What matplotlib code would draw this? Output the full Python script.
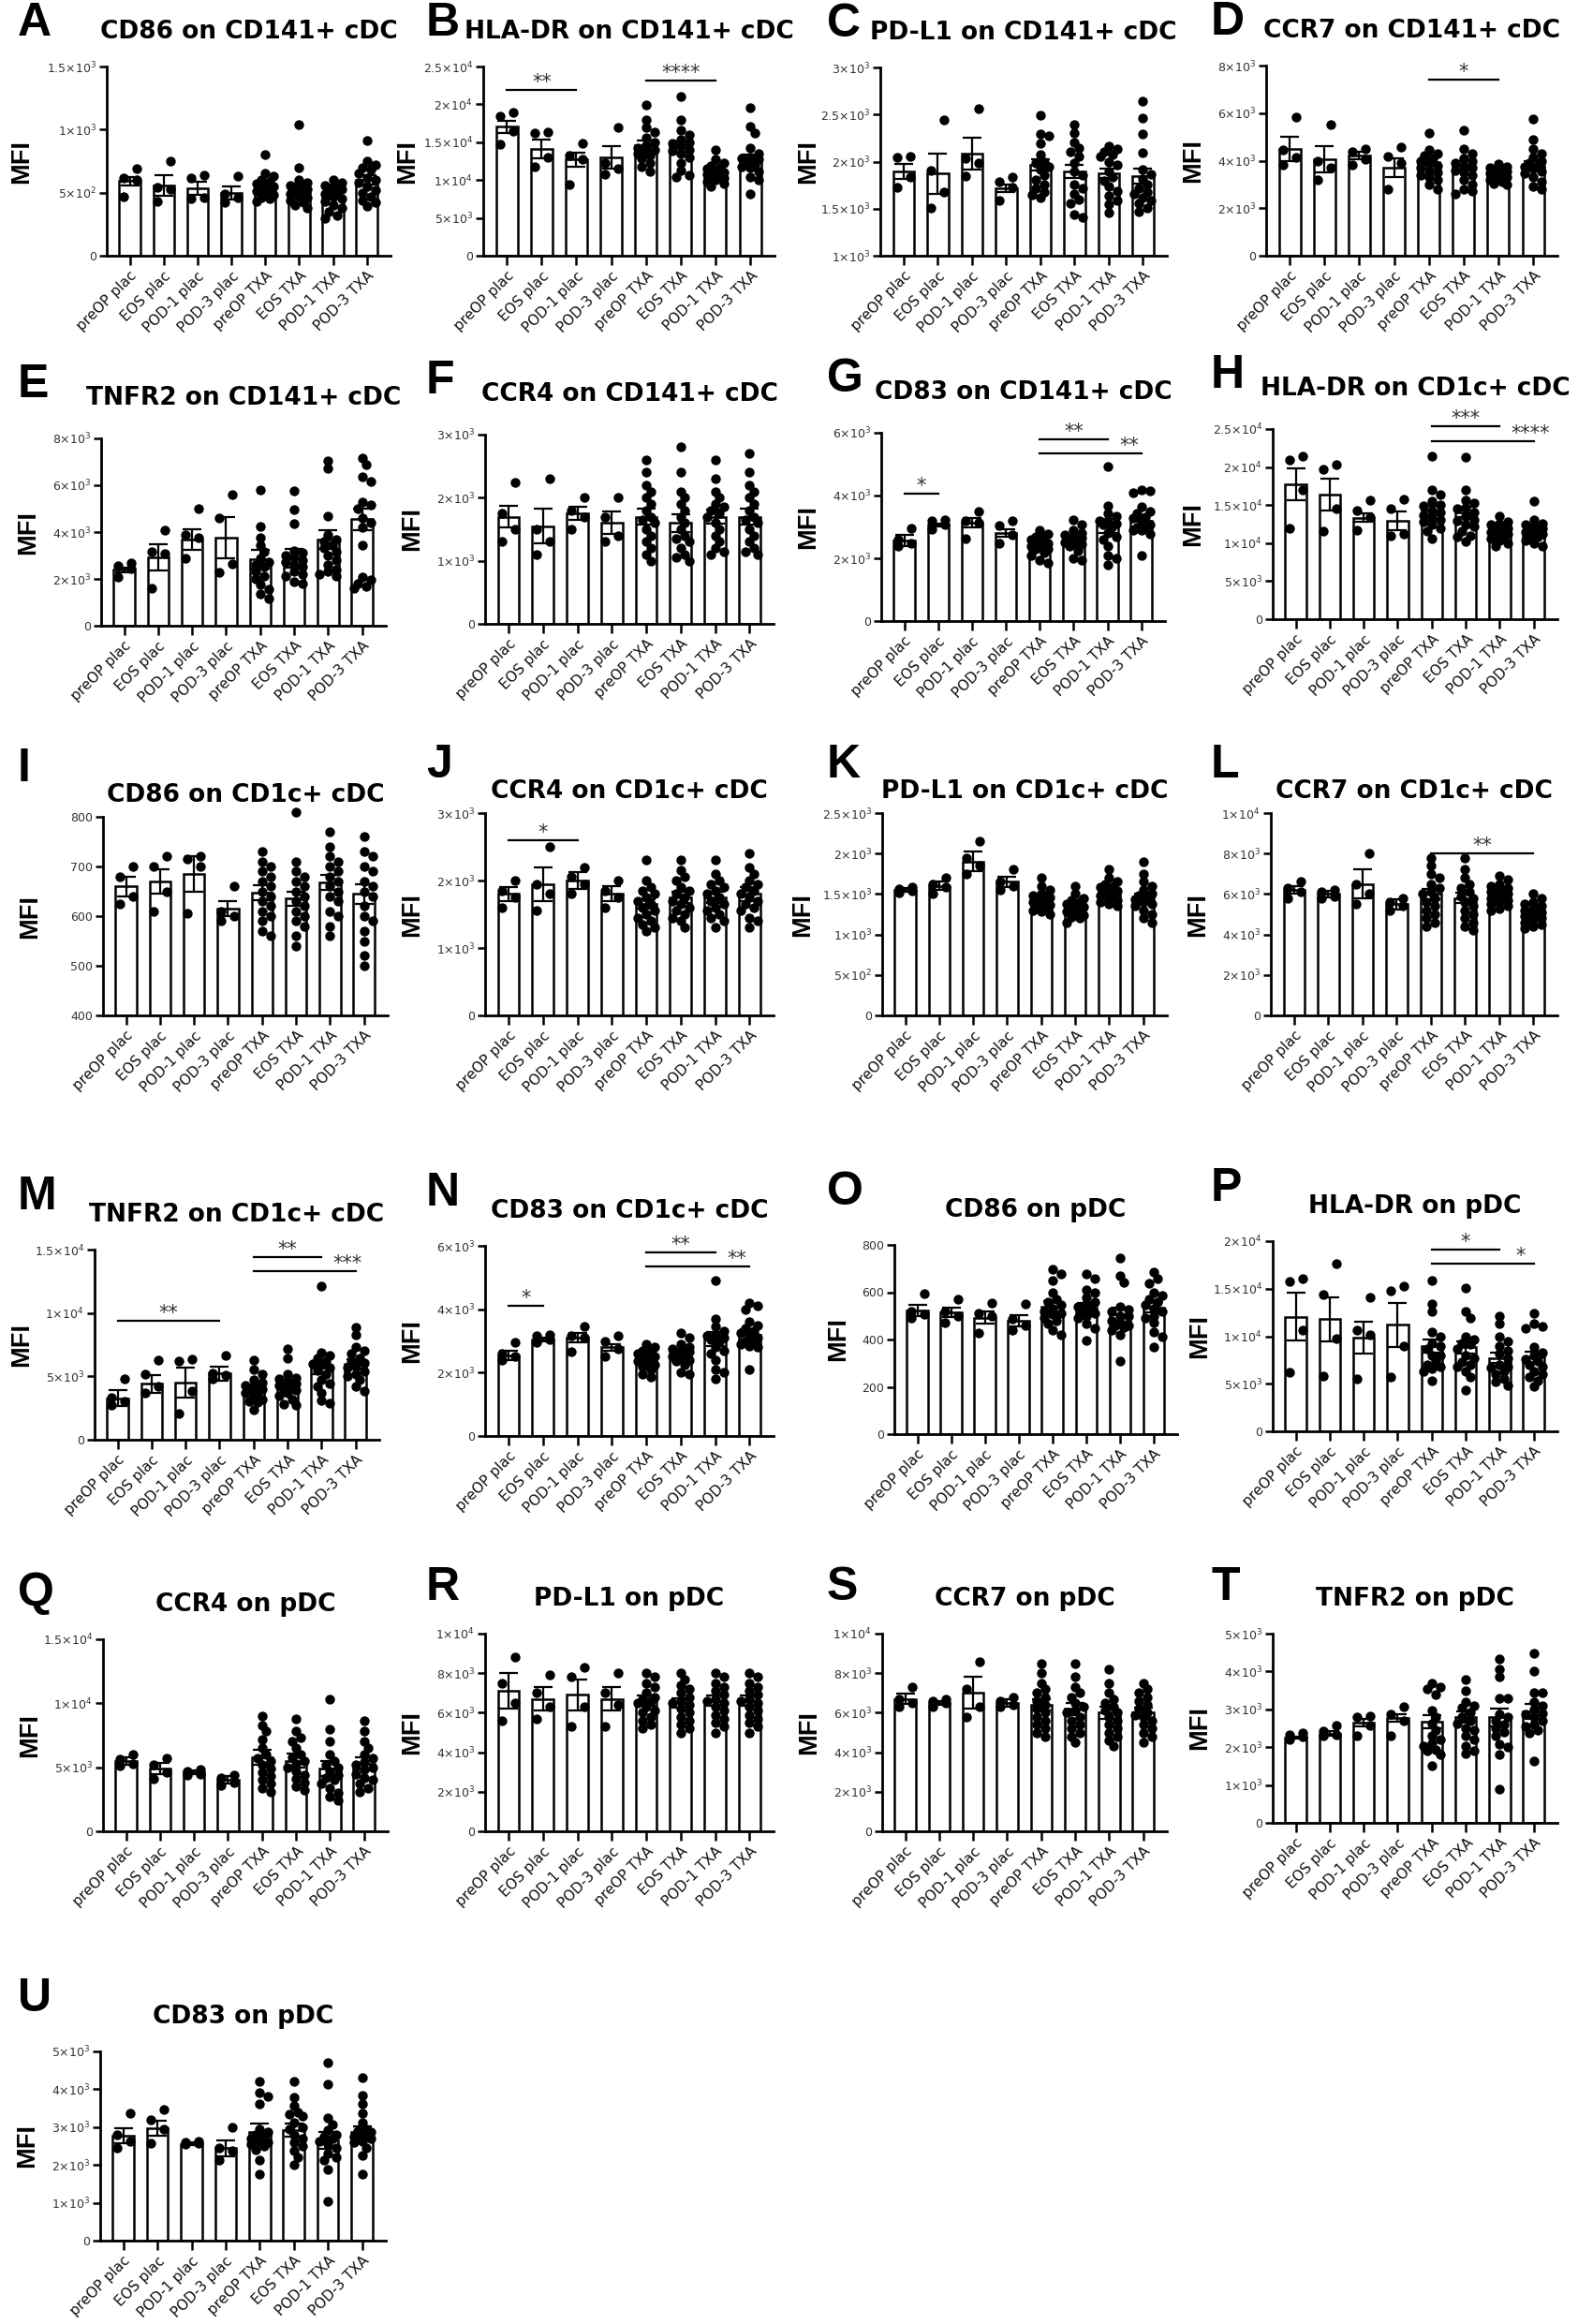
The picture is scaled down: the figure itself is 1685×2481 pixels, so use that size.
import numpy as np
import matplotlib.pyplot as plt

groups = ['preOP plac', 'EOS plac', 'POD-1 plac', 'POD-3 plac',
          'preOP TXA', 'EOS TXA', 'POD-1 TXA', 'POD-3 TXA']

# ---------------- A
a_title = 'CD86 on CD141+ cDC'
a_ticks = [0, 500, 1000, 1500]
a_mean = [592, 555, 535, 498, 543, 535, 476, 600]
a_sem = [35, 80, 55, 50, 25, 40, 22, 35]
a_pts = [[690, 620, 600, 470], [752, 543, 530, 432], [641, 617, 464, 456], [630, 490, 460, 420],
         [800, 650, 630, 600, 590, 570, 560, 550, 540, 530, 510, 500, 480, 460, 450, 430],
         [1040, 700, 600, 580, 560, 550, 530, 520, 500, 490, 470, 460, 440, 420, 400, 380],
         [600, 580, 560, 550, 530, 520, 500, 490, 470, 450, 430, 400, 380, 350, 320, 300],
         [910, 750, 720, 700, 680, 650, 620, 600, 580, 550, 520, 500, 470, 440, 420, 390]]
a_sig = []

# ---------------- B
b_title = 'HLA-DR on CD141+ cDC'
b_ticks = [0, 5000, 10000, 15000, 20000, 25000]
b_mean = [17040, 14070, 12700, 13030, 14640, 14350, 11100, 12700]
b_sem = [800, 1230, 900, 1500, 600, 700, 350, 650]
b_pts = [[18900, 18400, 16400, 14700], [16300, 16200, 13000, 11800], [14800, 13200, 12800, 9400],
         [16900, 12300, 11500, 10800],
         [19900, 18000, 17000, 16300, 15600, 15000, 14600, 14200, 14000, 13800, 13500, 13300, 12900, 12300, 11700, 11100],
         [21000, 18000, 16600, 16000, 15400, 15000, 14800, 14500, 14000, 13800, 13500, 13000, 12300, 11300, 10600, 10400],
         [14000, 12700, 12300, 11900, 11600, 11500, 11100, 11000, 10800, 10600, 10500, 10300, 10000, 9800, 9500, 9200],
         [19500, 17100, 16200, 14200, 13500, 13000, 12900, 12700, 12500, 12000, 11800, 11600, 11100, 10400, 10000, 8200]]
b_sig = [(0, 2, 21860, '**', None), (4, 6, 23180, '****', None)]

# ---------------- C
c_title = 'PD-L1 on CD141+ cDC'
c_ticks = [1000, 1500, 2000, 2500, 3000]
c_mean = [1895, 1872, 2088, 1713, 1965, 1892, 1872, 1849]
c_sem = [80, 215, 170, 40, 60, 70, 50, 80]
c_pts = [[2055, 2040, 1840, 1723], [2443, 1905, 1673, 1507], [2559, 2038, 1988, 1846], [1840, 1790, 1723, 1590],
         [2490, 2290, 2270, 2190, 2070, 2000, 1990, 1950, 1920, 1860, 1810, 1760, 1720, 1680, 1650, 1620],
         [2390, 2300, 2200, 2140, 2100, 2050, 1990, 1900, 1860, 1760, 1720, 1660, 1600, 1560, 1440, 1410],
         [2160, 2130, 2100, 2070, 2050, 2000, 1970, 1900, 1840, 1800, 1740, 1690, 1640, 1590, 1550, 1460],
         [2640, 2460, 2290, 2090, 1920, 1870, 1820, 1760, 1720, 1680, 1660, 1620, 1590, 1560, 1510, 1470]]
c_sig = []

# ---------------- D
d_title = 'CCR7 on CD141+ cDC'
d_ticks = [0, 2000, 4000, 6000, 8000]
d_mean = [4490, 4050, 4220, 3700, 3950, 3790, 3400, 3800]
d_sem = [500, 550, 150, 400, 170, 180, 70, 170]
d_pts = [[5815, 4470, 4120, 3815], [5500, 3990, 3720, 3200], [4510, 4380, 4050, 3815], [4580, 4180, 3920, 2800],
         [5170, 4450, 4300, 4200, 4100, 4000, 3900, 3800, 3700, 3600, 3500, 3400, 3300, 3200, 3000, 2800],
         [5300, 4500, 4300, 4100, 4000, 3900, 3800, 3700, 3600, 3500, 3400, 3200, 3000, 2800, 2700, 2600],
         [3850, 3750, 3700, 3650, 3600, 3550, 3500, 3450, 3400, 3350, 3300, 3250, 3200, 3100, 3050, 3000],
         [5740, 4900, 4500, 4300, 4150, 4000, 3900, 3800, 3750, 3650, 3550, 3450, 3300, 3100, 2900, 2800]]
d_sig = [(4, 6, 7400, '*', None)]

# ---------------- E
e_title = 'TNFR2 on CD141+ cDC'
e_ticks = [0, 2000, 4000, 6000, 8000]
e_mean = [2380, 2910, 3680, 3770, 2820, 2880, 3680, 4540]
e_sem = [100, 570, 450, 880, 400, 400, 400, 470]
e_pts = [[2680, 2550, 2420, 2090], [4080, 3150, 3080, 1620], [4980, 3880, 3750, 2880], [5610, 4610, 2620, 2290],
         [5810, 4250, 3750, 3420, 3150, 2880, 2700, 2600, 2500, 2300, 2100, 2000, 1750, 1550, 1350, 1150],
         [5740, 4940, 4370, 3200, 3100, 3000, 2900, 2800, 2700, 2600, 2500, 2300, 2200, 2100, 1900, 1800],
         [7030, 6710, 4680, 3880, 3680, 3600, 3420, 3300, 3150, 3000, 2800, 2600, 2400, 2300, 2200, 2100],
         [7140, 6870, 6340, 6140, 5280, 5150, 5000, 4610, 4400, 4210, 3420, 2090, 1950, 1800, 1690, 1620]]
e_sig = []

# ---------------- F
f_title = 'CCR4 on CD141+ cDC'
f_ticks = [0, 1000, 2000, 3000]
f_mean = [1700, 1550, 1750, 1600, 1700, 1600, 1700, 1700]
f_sem = [170, 280, 100, 180, 120, 140, 110, 120]
f_pts = [[2250, 1750, 1500, 1300], [2300, 1500, 1300, 1100], [2000, 1800, 1700, 1500], [2000, 1700, 1400, 1300],
         [2600, 2400, 2200, 2100, 2000, 1900, 1800, 1700, 1650, 1600, 1500, 1400, 1300, 1200, 1100, 1000],
         [2800, 2400, 2100, 2000, 1900, 1800, 1700, 1600, 1500, 1400, 1350, 1300, 1200, 1100, 1050, 1000],
         [2600, 2300, 2100, 2000, 1900, 1850, 1800, 1750, 1700, 1600, 1500, 1400, 1300, 1200, 1150, 1100],
         [2700, 2400, 2200, 2100, 2000, 1900, 1800, 1700, 1650, 1600, 1500, 1400, 1300, 1200, 1150, 1100]]
f_sig = []

# ---------------- G
g_title = 'CD83 on CD141+ cDC'
g_ticks = [0, 2000, 4000, 6000]
g_mean = [2557, 3065, 3134, 2816, 2438, 2617, 3035, 3204]
g_sem = [180, 50, 140, 120, 70, 80, 220, 180]
g_pts = [[2965, 2607, 2488, 2388], [3234, 3184, 3085, 2935], [3483, 3184, 3134, 2637], [3184, 3035, 2736, 2488],
         [2890, 2790, 2700, 2690, 2600, 2590, 2490, 2490, 2400, 2390, 2300, 2290, 2190, 2090, 1940, 1840],
         [3230, 3080, 2890, 2800, 2740, 2700, 2650, 2600, 2590, 2500, 2490, 2450, 2390, 2240, 1990, 1940],
         [4925, 3680, 3430, 3330, 3200, 3180, 3100, 3080, 2990, 2800, 2700, 2590, 2390, 2090, 2000, 1790],
         [4180, 4150, 4080, 3630, 3500, 3430, 3300, 3280, 3180, 3080, 3000, 2990, 2900, 2890, 2790, 2090]]
g_sig = [(0, 1, 4050, '*', None), (4, 6, 5790, '**', None), (4, 7, 5343, '**', 6.64)]

# ---------------- H
h_title = 'HLA-DR on CD1c+ cDC'
h_ticks = [0, 5000, 10000, 15000, 20000, 25000]
h_mean = [17710, 16430, 13350, 12930, 14290, 14090, 11950, 11740]
h_sem = [2100, 2100, 600, 1200, 650, 700, 350, 380]
h_pts = [[21420, 20880, 16970, 11950], [20270, 19650, 14500, 11620], [15650, 14290, 13470, 11700],
         [15820, 14500, 11200, 11000],
         [21400, 17000, 16400, 15500, 15000, 14900, 14300, 14000, 13700, 13300, 13000, 12800, 12400, 12000, 11600, 10600],
         [21300, 17000, 15700, 15300, 14700, 14500, 14100, 13500, 13000, 12900, 12500, 12200, 11600, 11000, 10800, 10200],
         [13550, 12850, 12600, 12400, 12000, 11800, 11600, 11400, 11300, 11200, 11000, 10800, 10600, 10400, 10000, 9600],
         [15500, 13100, 12600, 12400, 12200, 12000, 11800, 11600, 11500, 11400, 11200, 11000, 10800, 10400, 10000, 9600]]
h_sig = [(4, 6, 25330, '***', None), (4, 7, 23350, '****', 6.9)]

# ---------------- I
i_title = 'CD86 on CD1c+ cDC'
i_ticks = [400, 500, 600, 700, 800]
i_mean = [660, 670, 685, 615, 648, 635, 668, 645]
i_sem = [20, 25, 35, 15, 15, 15, 15, 20]
i_pts = [[700, 680, 640, 625], [720, 700, 650, 610], [720, 715, 700, 605], [660, 610, 600, 590],
         [730, 710, 700, 690, 680, 670, 660, 650, 640, 630, 620, 610, 600, 590, 570, 560],
         [810, 710, 690, 680, 670, 660, 650, 640, 630, 620, 610, 600, 590, 580, 560, 540],
         [770, 740, 720, 710, 700, 690, 680, 670, 660, 650, 640, 630, 610, 600, 580, 560],
         [760, 730, 720, 700, 690, 670, 660, 650, 640, 620, 600, 590, 570, 550, 520, 500]]
i_sig = []

# ---------------- J
j_title = 'CCR4 on CD1c+ cDC'
j_ticks = [0, 1000, 2000, 3000]
j_mean = [1800, 1950, 2000, 1800, 1650, 1750, 1750, 1800]
j_sem = [100, 250, 130, 110, 70, 80, 90, 100]
j_pts = [[2000, 1850, 1750, 1600], [2500, 1950, 1800, 1550], [2200, 2050, 1950, 1800], [2000, 1850, 1750, 1600],
         [2300, 2000, 1900, 1850, 1800, 1750, 1700, 1650, 1600, 1550, 1500, 1450, 1400, 1350, 1300, 1250],
         [2300, 2150, 2050, 2000, 1900, 1850, 1800, 1750, 1700, 1650, 1600, 1550, 1500, 1450, 1400, 1300],
         [2300, 2100, 2000, 1950, 1900, 1850, 1800, 1750, 1700, 1650, 1600, 1550, 1500, 1450, 1400, 1300],
         [2400, 2200, 2100, 2000, 1950, 1900, 1850, 1800, 1750, 1700, 1650, 1600, 1550, 1450, 1400, 1300]]
j_sig = [(0, 2, 2600, '*', None)]

# ---------------- K
k_title = 'PD-L1 on CD1c+ cDC'
k_ticks = [0, 500, 1000, 1500, 2000, 2500]
k_mean = [1550, 1600, 1900, 1650, 1450, 1350, 1550, 1450]
k_sem = [20, 50, 120, 60, 40, 35, 40, 60]
k_pts = [[1580, 1560, 1540, 1520], [1700, 1620, 1580, 1500], [2150, 1950, 1850, 1750], [1800, 1650, 1600, 1550],
         [1700, 1600, 1550, 1500, 1480, 1460, 1440, 1420, 1400, 1380, 1360, 1340, 1320, 1300, 1280, 1250],
         [1600, 1500, 1450, 1420, 1400, 1380, 1360, 1340, 1320, 1300, 1280, 1260, 1240, 1220, 1200, 1150],
         [1800, 1700, 1650, 1620, 1600, 1580, 1560, 1540, 1520, 1500, 1480, 1450, 1420, 1400, 1380, 1350],
         [1900, 1750, 1650, 1600, 1550, 1500, 1480, 1460, 1440, 1400, 1380, 1350, 1300, 1250, 1200, 1150]]
k_sig = []

# ---------------- L
l_title = 'CCR7 on CD1c+ cDC'
l_ticks = [0, 2000, 4000, 6000, 8000, 10000]
l_mean = [6200, 6000, 6500, 5500, 6000, 5800, 6000, 5100]
l_sem = [200, 150, 700, 250, 250, 250, 150, 150]
l_pts = [[6600, 6300, 6100, 5800], [6200, 6100, 5900, 5800], [8000, 6500, 6000, 5500], [5800, 5600, 5400, 5200],
         [7800, 7400, 7000, 6800, 6500, 6300, 6100, 6000, 5800, 5600, 5400, 5200, 5000, 4800, 4600, 4400],
         [7800, 7200, 6800, 6500, 6300, 6100, 5900, 5800, 5600, 5400, 5200, 5000, 4800, 4600, 4400, 4200],
         [6900, 6700, 6500, 6400, 6300, 6200, 6100, 6000, 5900, 5800, 5700, 5600, 5500, 5400, 5300, 5200],
         [6000, 5800, 5600, 5500, 5400, 5300, 5200, 5100, 5000, 4900, 4800, 4700, 4600, 4500, 4400, 4300]]
l_sig = [(4, 7, 8000, '**', None)]

# ---------------- M
m_title = 'TNFR2 on CD1c+ cDC'
m_ticks = [0, 5000, 10000, 15000]
m_mean = [3260, 4400, 4520, 5240, 4080, 4400, 5680, 5980]
m_sem = [620, 700, 1160, 560, 300, 350, 500, 400]
m_pts = [[4820, 3340, 3010, 2720], [6300, 5190, 4200, 3660], [6350, 6230, 3830, 2100], [6670, 5240, 5070, 4820],
         [6300, 5560, 5190, 4700, 4500, 4300, 4200, 4000, 3950, 3800, 3710, 3500, 3210, 3000, 2970, 2350],
         [7170, 6420, 5190, 4900, 4820, 4600, 4450, 4300, 4200, 4000, 3950, 3700, 3460, 3200, 2840, 2700],
         [12100, 6900, 6670, 6420, 6180, 6000, 5930, 5680, 5500, 5190, 4700, 4400, 4200, 3710, 3090, 2850],
         [8900, 8280, 7290, 7040, 6800, 6420, 6200, 6050, 5800, 5680, 5400, 5190, 5000, 4700, 4200, 3830]]
m_sig = [(0, 3, 9390, '**', None), (4, 6, 14380, '**', None), (4, 7, 13270, '***', 6.75)]

# ---------------- N
n_title = 'CD83 on CD1c+ cDC'
n_ticks = [0, 2000, 4000, 6000]
n_mean = [2550, 3050, 3100, 2800, 2450, 2600, 3050, 3200]
n_sem = [150, 50, 150, 100, 70, 80, 220, 170]
n_pts = [[2950, 2600, 2500, 2400], [3200, 3150, 3050, 2950], [3450, 3150, 3100, 2650], [3150, 3000, 2750, 2500],
         [2900, 2800, 2700, 2650, 2600, 2550, 2500, 2450, 2400, 2350, 2300, 2250, 2200, 2100, 1950, 1850],
         [3250, 3100, 2900, 2800, 2750, 2700, 2650, 2600, 2550, 2500, 2450, 2400, 2350, 2250, 2000, 1950],
         [4900, 3700, 3450, 3300, 3200, 3150, 3100, 3050, 3000, 2800, 2700, 2600, 2400, 2100, 2000, 1800],
         [4200, 4100, 4000, 3600, 3500, 3400, 3300, 3250, 3200, 3100, 3000, 2950, 2900, 2850, 2800, 2100]]
n_sig = [(0, 1, 4100, '*', None), (4, 6, 5800, '**', None), (4, 7, 5350, '**', 6.64)]

# ---------------- O
o_title = 'CD86 on pDC'
o_ticks = [0, 200, 400, 600, 800]
o_mean = [523, 515, 492, 479, 539, 536, 506, 535]
o_sem = [25, 20, 25, 25, 25, 20, 30, 22]
o_pts = [[594, 519, 506, 492], [572, 519, 499, 473], [555, 512, 499, 426], [552, 486, 459, 440],
         [697, 677, 651, 600, 572, 560, 545, 532, 519, 510, 506, 492, 480, 466, 440, 420],
         [677, 657, 611, 600, 580, 558, 550, 539, 525, 520, 512, 500, 492, 466, 446, 396],
         [743, 671, 642, 540, 525, 520, 500, 499, 479, 470, 460, 459, 450, 440, 420, 310],
         [684, 657, 638, 600, 585, 572, 560, 545, 530, 519, 500, 492, 470, 433, 413, 367]]
o_sig = []

# ---------------- P
p_title = 'HLA-DR on pDC'
p_ticks = [0, 5000, 10000, 15000, 20000]
p_mean = [12040, 11780, 9870, 11190, 8980, 8820, 7730, 7760]
p_sem = [2500, 2300, 1700, 2300, 700, 650, 550, 600]
p_pts = [[16060, 15730, 10630, 6190], [17640, 14410, 9800, 5860], [14080, 10630, 10130, 5530], [15300, 14800, 8980, 5690],
         [15820, 13420, 12600, 10460, 9970, 9310, 9000, 8650, 8000, 7990, 7340, 7000, 6840, 6600, 6350, 5360],
         [15070, 12600, 11940, 9970, 9640, 9300, 9150, 8650, 8000, 7660, 7300, 7000, 6840, 6350, 5690, 4380],
         [12110, 11290, 9970, 9480, 8980, 8490, 8200, 7660, 7000, 6840, 6700, 6350, 6000, 5530, 5200, 4870],
         [12440, 11290, 11000, 10790, 8820, 8320, 7990, 7600, 7340, 7000, 6840, 6350, 6000, 5690, 5300, 4700]]
p_sig = [(4, 6, 19080, '*', None), (4, 7, 17630, '*', 6.6)]

# ---------------- Q
q_title = 'CCR4 on pDC'
q_ticks = [0, 5000, 10000, 15000]
q_mean = [5500, 4900, 4600, 4000, 5800, 5500, 4900, 5300]
q_sem = [300, 450, 150, 300, 600, 550, 600, 500]
q_pts = [[6000, 5600, 5300, 5100], [5700, 5200, 4600, 4100], [4800, 4700, 4500, 4400], [4400, 4200, 3800, 3600],
         [9000, 8300, 7800, 7200, 6500, 6000, 5700, 5500, 5200, 4900, 4600, 4300, 4000, 3700, 3400, 3100],
         [8800, 7800, 7300, 7000, 6500, 6000, 5800, 5500, 5300, 5000, 4700, 4400, 4100, 3800, 3500, 3200],
         [10300, 8000, 7000, 6000, 5500, 5200, 5000, 4700, 4400, 4200, 4000, 3700, 3400, 3000, 2700, 2400],
         [8600, 7800, 7000, 6500, 6000, 5700, 5400, 5200, 5000, 4800, 4500, 4200, 4000, 3700, 3400, 3100]]
q_sig = []

# ---------------- R
r_title = 'PD-L1 on pDC'
r_ticks = [0, 2000, 4000, 6000, 8000, 10000]
r_mean = [7100, 6700, 6900, 6700, 6600, 6500, 6600, 6600]
r_sem = [900, 600, 800, 600, 250, 250, 250, 250]
r_pts = [[8800, 7500, 6500, 5600], [7900, 7000, 6300, 5700], [8300, 7800, 6300, 5300], [8000, 7000, 6400, 5300],
         [8000, 7800, 7500, 7300, 7000, 6800, 6700, 6600, 6500, 6300, 6100, 6000, 5800, 5600, 5400, 5200],
         [8000, 7700, 7400, 7200, 7000, 6800, 6600, 6500, 6400, 6200, 6000, 5800, 5600, 5400, 5200, 5000],
         [8000, 7800, 7500, 7300, 7100, 6900, 6700, 6600, 6500, 6300, 6100, 5900, 5700, 5500, 5300, 5000],
         [8000, 7800, 7500, 7300, 7100, 6900, 6700, 6600, 6500, 6300, 6100, 5900, 5700, 5500, 5300, 5000]]
r_sig = []

# ---------------- S
s_title = 'CCR7 on pDC'
s_ticks = [0, 2000, 4000, 6000, 8000, 10000]
s_mean = [6700, 6500, 7000, 6500, 6400, 6200, 6000, 6000]
s_sem = [250, 100, 800, 200, 300, 300, 300, 250]
s_pts = [[7300, 6700, 6500, 6300], [6700, 6600, 6500, 6300], [8600, 7200, 6300, 5800], [6800, 6600, 6400, 6300],
         [8500, 8000, 7500, 7200, 7000, 6800, 6600, 6400, 6200, 6000, 5800, 5600, 5400, 5200, 5000, 4800],
         [8500, 7800, 7300, 7000, 6800, 6500, 6300, 6100, 6000, 5800, 5600, 5400, 5200, 5000, 4800, 4500],
         [8200, 7500, 7000, 6700, 6500, 6300, 6100, 6000, 5800, 5600, 5400, 5200, 5000, 4800, 4600, 4300],
         [7500, 7200, 7000, 6800, 6600, 6400, 6200, 6000, 5900, 5800, 5600, 5400, 5200, 5000, 4800, 4500]]
s_sig = []

# ---------------- T
t_title = 'TNFR2 on pDC'
t_ticks = [0, 1000, 2000, 3000, 4000, 5000]
t_mean = [2250, 2360, 2640, 2765, 2665, 2790, 2790, 2955]
t_sem = [30, 60, 100, 100, 170, 150, 230, 200]
t_pts = [[2376, 2334, 2276, 2210], [2583, 2417, 2334, 2293], [2831, 2790, 2583, 2310], [3080, 2873, 2707, 2310],
         [3680, 3580, 3530, 3400, 2960, 2790, 2620, 2460, 2300, 2210, 2100, 2040, 1920, 1900, 1800, 1510],
         [3780, 3480, 3200, 3100, 3040, 2910, 2790, 2700, 2620, 2500, 2460, 2300, 2210, 2040, 1900, 1840],
         [4320, 4070, 3870, 3290, 3290, 2870, 2800, 2710, 2600, 2500, 2400, 2290, 2090, 2000, 1800, 890],
         [4490, 4010, 3450, 3450, 3200, 3100, 3000, 2900, 2870, 2800, 2710, 2600, 2540, 2450, 2380, 1630]]
t_sig = []

# ---------------- U
u_title = 'CD83 on pDC'
u_ticks = [0, 1000, 2000, 3000, 4000, 5000]
u_mean = [2780, 2980, 2560, 2440, 2870, 2920, 2650, 2860]
u_sem = [200, 200, 30, 200, 230, 170, 230, 170]
u_pts = [[3360, 2790, 2620, 2450], [3460, 3200, 2950, 2580], [2620, 2600, 2580, 2560], [3000, 2450, 2370, 2120],
         [4200, 3900, 3820, 3610, 2950, 2870, 2800, 2740, 2700, 2620, 2600, 2540, 2500, 2410, 2120, 1750],
         [4200, 3780, 3570, 3400, 3350, 3280, 3120, 3000, 2950, 2800, 2700, 2600, 2500, 2370, 2200, 2000],
         [4700, 4130, 3240, 3070, 2910, 2800, 2740, 2700, 2620, 2550, 2450, 2290, 2200, 2120, 1870, 1040],
         [4300, 3840, 3610, 3360, 3110, 2950, 2900, 2870, 2800, 2740, 2700, 2620, 2600, 2450, 2250, 1750]]
u_sig = []

panels = [
    ('A', a_title, a_ticks, a_mean, a_sem, a_pts, a_sig),
    ('B', b_title, b_ticks, b_mean, b_sem, b_pts, b_sig),
    ('C', c_title, c_ticks, c_mean, c_sem, c_pts, c_sig),
    ('D', d_title, d_ticks, d_mean, d_sem, d_pts, d_sig),
    ('E', e_title, e_ticks, e_mean, e_sem, e_pts, e_sig),
    ('F', f_title, f_ticks, f_mean, f_sem, f_pts, f_sig),
    ('G', g_title, g_ticks, g_mean, g_sem, g_pts, g_sig),
    ('H', h_title, h_ticks, h_mean, h_sem, h_pts, h_sig),
    ('I', i_title, i_ticks, i_mean, i_sem, i_pts, i_sig),
    ('J', j_title, j_ticks, j_mean, j_sem, j_pts, j_sig),
    ('K', k_title, k_ticks, k_mean, k_sem, k_pts, k_sig),
    ('L', l_title, l_ticks, l_mean, l_sem, l_pts, l_sig),
    ('M', m_title, m_ticks, m_mean, m_sem, m_pts, m_sig),
    ('N', n_title, n_ticks, n_mean, n_sem, n_pts, n_sig),
    ('O', o_title, o_ticks, o_mean, o_sem, o_pts, o_sig),
    ('P', p_title, p_ticks, p_mean, p_sem, p_pts, p_sig),
    ('Q', q_title, q_ticks, q_mean, q_sem, q_pts, q_sig),
    ('R', r_title, r_ticks, r_mean, r_sem, r_pts, r_sig),
    ('S', s_title, s_ticks, s_mean, s_sem, s_pts, s_sig),
    ('T', t_title, t_ticks, t_mean, t_sem, t_pts, t_sig),
    ('U', u_title, u_ticks, u_mean, u_sem, u_pts, u_sig),
]

# axes boxes in pixels: left, top, right, bottom
boxes = [(114, 71, 417, 273), (516, 71, 827, 273), (940, 72, 1246, 273), (1352, 70, 1663, 273),
         (108, 468, 412, 668), (518, 464, 826, 666), (941, 462, 1244, 663), (1359, 458, 1663, 661),
         (110, 872, 414, 1084), (518, 868, 826, 1084), (942, 868, 1246, 1084), (1357, 868, 1663, 1084),
         (101, 1334, 405, 1537), (518, 1330, 826, 1533), (955, 1329, 1257, 1531), (1359, 1325, 1663, 1528),
         (110, 1750, 414, 1955), (518, 1744, 826, 1955), (942, 1744, 1246, 1955), (1359, 1744, 1663, 1946),
         (107, 2190, 412, 2392)]
# where the MFI label sits, pixels left of the y axis
label_off = {'A': -78, 'B': -68, 'C': -64, 'H': -72, 'K': -72, 'O': -47}
letter_x = [19, 455, 883, 1293]
title_gap = [30, 36, 16, 30, 30, 30]
letter_gap = [33, 44, 38, 43, 36, 43]

W, H = 1685, 2481
fig = plt.figure(figsize=(W / 100, H / 100), dpi=100)


def sci(v, pos=None):
    if v == 0:
        return '0'
    e = int(np.floor(np.log10(v) + 1e-9))
    m = round(v / 10 ** e, 2)
    return r'$%s{\times}10^{%d}$' % ('%g' % m, e)


def swarm(vals, ypx, xpx, diam=10.0):
    # simple beeswarm in pixel units, kept close to the bar centre
    vals = np.asarray(vals, float)
    offs = np.zeros(len(vals))
    order = np.argsort(vals)
    if len(vals) <= 5:
        for k, idx in enumerate(order):
            offs[idx] = (7 if k % 2 else -7) / xpx
        return offs
    step = diam * 0.45
    cands = [0, step, -step, 2 * step, -2 * step]
    placed = []
    for idx in order[::-1]:
        y = vals[idx] * ypx
        best, bestd = 0, -1
        for c in cands:
            d = min([np.hypot(c - px, y - py) for px, py in placed] + [1e9])
            if d >= diam * 0.75:
                best = c
                break
            if d > bestd:
                best, bestd = c, d
        placed.append((best, y))
        offs[idx] = best / xpx
    return offs


x = np.arange(len(groups))
for n, (letter, title, ticks, mean, sem, pts, sig) in enumerate(panels):
    l, t, r, b = boxes[n]
    ax = fig.add_axes([l / W, 1 - b / H, (r - l) / W, (b - t) / H])
    ymin, ymax = ticks[0], ticks[-1]
    ax.set_xlim(-0.68, 7.7)
    ax.set_ylim(ymin, ymax)
    ax.bar(x, np.array(mean) - ymin, bottom=ymin, width=0.62, color='white',
           edgecolor='black', linewidth=1.8, zorder=2)
    xpx = (r - l) / 8.38
    ypx = (b - t) / (ymax - ymin)
    for i, vals in enumerate(pts):
        off = swarm(np.array(vals) - ymin, ypx, xpx)
        ax.scatter(i + off, vals, s=56, color='black', linewidths=0, zorder=3, clip_on=False)
    ax.errorbar(x, mean, yerr=sem, fmt='none', ecolor='black', elinewidth=1.6,
                capsize=7, capthick=1.6, zorder=4)
    for i, j, yl, lab, tx in sig:
        ax.plot([i, j], [yl, yl], color='black', lw=1.6, clip_on=False)
        ax.annotate(lab, ((i + j) / 2 if tx is None else tx, yl), xytext=(0, 1.5),
                    textcoords='offset points', ha='center', va='baseline',
                    fontsize=15, color='#333333', annotation_clip=False)
    for s in ['top', 'right']:
        ax.spines[s].set_visible(False)
    for s in ['left', 'bottom']:
        ax.spines[s].set_linewidth(2)
    ax.set_xticks(x)
    ax.set_xticklabels(groups, rotation=45, ha='right', rotation_mode='anchor',
                       fontsize=11, color='#111111')
    ax.set_yticks(ticks)
    if letter in ('I', 'O'):
        ax.set_yticklabels([str(v) for v in ticks])
    else:
        ax.set_yticklabels([sci(v) for v in ticks])
    ax.tick_params(axis='y', labelsize=9, labelcolor='#333333', length=6, width=1.8, pad=2)
    ax.tick_params(axis='x', length=7, width=1.8, pad=3)
    ax.set_ylabel('MFI', fontsize=19.5, fontweight='bold', family='Liberation Sans')
    ax.yaxis.set_label_coords(label_off.get(letter, -65) / (r - l), 0.5)
    row, col = n // 4, n % 4
    fig.text((l + r) / 2 / W, 1 - (t - title_gap[row]) / H, title, ha='center', va='baseline',
             fontsize=19, fontweight='bold', family='DejaVu Sans')
    fig.text(letter_x[col] / W, 1 - (t - letter_gap[row]) / H, letter, ha='left',
             va='baseline', fontsize=36, fontweight='bold', family='Liberation Sans')

fig.savefig('out.png', dpi=100)
